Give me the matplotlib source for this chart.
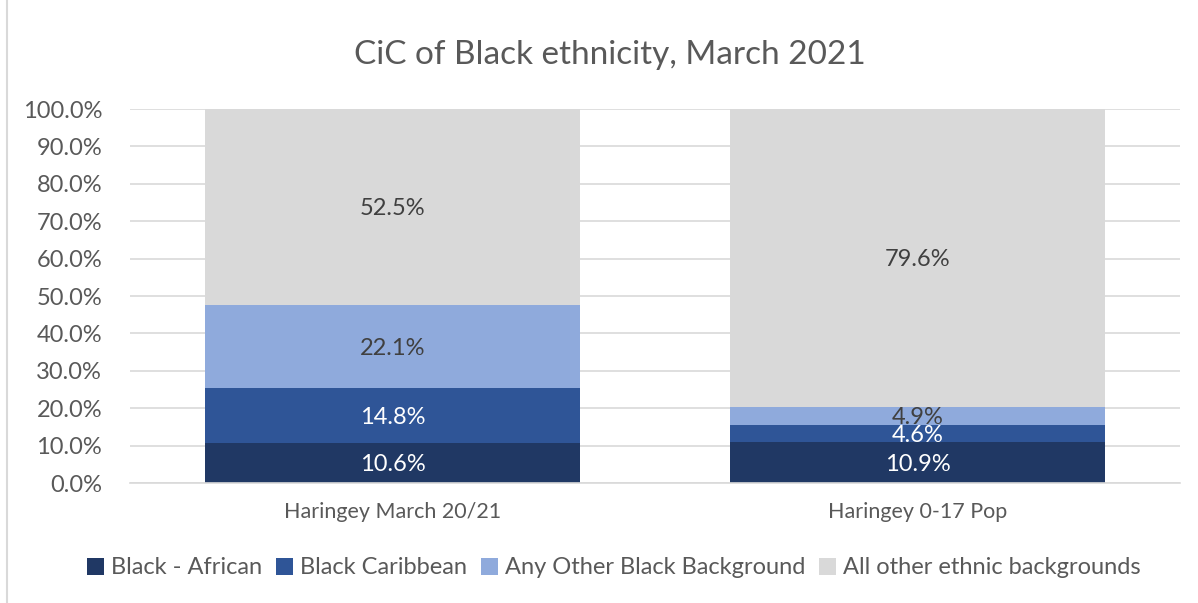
import matplotlib.pyplot as plt
import numpy as np
from matplotlib.lines import Line2D

plt.rcParams['font.family'] = ['Lato', 'DejaVu Sans']

categories = ["Haringey March 20/21", "Haringey 0-17 Pop"]
series_names = ["Black - African", "Black Caribbean", "Any Other Black Background", "All other ethnic backgrounds"]
black_african = [10.6, 10.9]
black_caribbean = [14.8, 4.6]
other_black = [22.1, 4.9]
all_other = [52.5, 79.6]
colors = ["#203864", "#2F5597", "#8FAADC", "#D9D9D9"]
label_colors = ["white", "white", "#404040", "#404040"]

fig = plt.figure(figsize=(11.98, 6.03), dpi=100)
ax = fig.add_axes([130 / 1198, 1 - 483 / 603, 1050 / 1198, 374 / 603])

x = np.arange(len(categories))
bottom = np.zeros(len(categories))
for name, vals, c, lc in zip(series_names, [black_african, black_caribbean, other_black, all_other], colors, label_colors):
    vals = np.array(vals)
    ax.bar(x, vals, 0.714, bottom=bottom, color=c, label=name, zorder=2)
    # labels centred in each segment, like the Excel original (4.9/4.6 touch there too)
    for xi, b, v in zip(x, bottom, vals):
        ax.text(xi, b + v / 2 - 0.4, f"{v:.1f}%", ha="center", va="center", color=lc, fontsize=17, zorder=3)
    bottom += vals

ax.set_xlim(-0.5, 1.5)
ax.set_ylim(0, 100)
ax.set_yticks(np.arange(0, 101, 10))
ax.set_yticklabels([f"{t:.1f}%" for t in range(0, 101, 10)])
ax.set_xticks(x)
ax.set_xticklabels(categories)
ax.grid(axis="y", color="#D9D9D9", linewidth=1.2, zorder=0)
for s in ["top", "right", "left"]:
    ax.spines[s].set_visible(False)
ax.spines["bottom"].set_color("#D9D9D9")
ax.spines["bottom"].set_linewidth(1.2)
ax.tick_params(axis="both", length=0, colors="#595959", labelsize=17)
ax.tick_params(axis="y", pad=20)
ax.tick_params(axis="x", pad=14)
for t in ax.get_xticklabels():
    t.set_fontsize(15.5)

fig.text(610 / 1198, 1 - 55 / 603, "CiC of Black ethnicity, March 2021", ha="center", va="center",
         fontsize=24, color="#595959")

fig.legend(loc="center", bbox_to_anchor=(614 / 1198, 1 - 568 / 603), ncol=4, frameon=False,
           fontsize=17, labelcolor="#595959", handlelength=0.7, handleheight=0.7,
           handletextpad=0.3, columnspacing=0.6)

fig.add_artist(Line2D([7 / 1198, 7 / 1198], [0, 1], color="#D9D9D9", linewidth=1.5))

fig.savefig("out.png", dpi=100)
